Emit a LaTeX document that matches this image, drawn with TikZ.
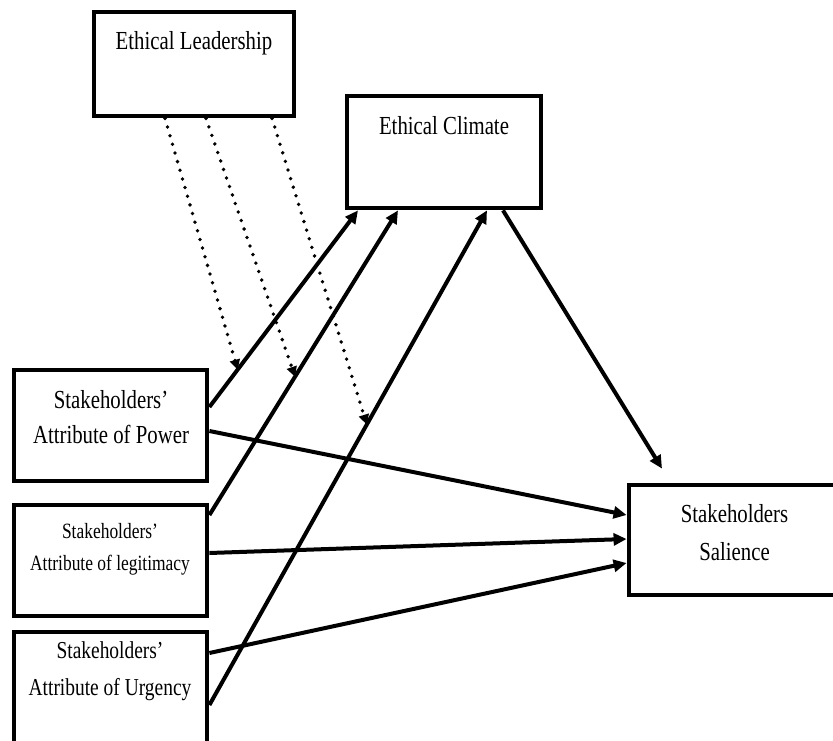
\documentclass[tikz,border=0pt]{standalone}
\usepackage{fontspec}
\setmainfont{Liberation Serif}[FakeStretch=0.8]
\usetikzlibrary{arrows.meta, positioning}

\begin{document}
\begin{tikzpicture}[x=1pt, y=-1pt,
    box/.style={draw, line width=4.8pt, inner sep=0pt},
    lbl/.style={anchor=base, align=center, inner sep=0pt},
    link/.style={line width=4pt, -{Triangle[length=13pt, width=12pt]}},
    moderation/.style={line width=3.8pt, line cap=round, dash pattern=on 0pt off 9pt,
        -{Triangle[length=10pt, width=10pt]}}]
    \useasboundingbox (0,0) rectangle (833,741);
    \clip (0,0) rectangle (833,741);
    % Boxes
    \node[box, minimum width=200, minimum height=104] (lead) at (194,64) {};
    \node[box, minimum width=194, minimum height=112] (clim) at (444,152) {};
    \node[box, minimum width=193, minimum height=111] (pow) at (110.5,425.5) {};
    \node[box, minimum width=193, minimum height=111] (leg) at (110.5,560.5) {};
    \node[box, minimum width=193, minimum height=130] (urg) at (110.5,697) {};
    \node[box, minimum width=214, minimum height=110] (sal) at (736,540) {};
    % Labels
    \node[lbl, font=\fontsize{26}{35}\selectfont] (leadtext) at (194,50) {Ethical Leadership};
    \node[lbl, font=\fontsize{26}{35}\selectfont] (climtext) at (444,135) {Ethical Climate};
    \node[lbl, font=\fontsize{26}{35}\selectfont] (powtext) at (111,443) {Stakeholders'\\Attribute of Power};
    \node[lbl, font=\fontsize{21.8}{32}\selectfont] (legtext) at (110,570) {Stakeholders'\\Attribute of legitimacy};
    \node[lbl, font=\fontsize{24.3}{37}\selectfont] (urgtext) at (110,695) {Stakeholders'\\Attribute of Urgency};
    \node[lbl, font=\fontsize{26}{38}\selectfont] (saltext) at (734.5,560) {Stakeholders\\Salience};
    % Paths to ethical climate
    \draw[link] ([yshift=18.5]pow.east) -- node[pos=0.19, coordinate] (powmid) {} ([xshift=-86]clim.south);
    \draw[link] ([yshift=45.5]leg.east) -- node[pos=0.454, coordinate] (legmid) {} ([xshift=-46]clim.south);
    \draw[link] ([yshift=-8]urg.east) -- node[pos=0.567, coordinate] (urgmid) {} ([xshift=43]clim.south);
    % Paths to salience
    \draw[link] ([yshift=-5.5]pow.east) -- ([yshift=25]sal.west);
    \draw[link] ([yshift=7.5]leg.east) -- ([yshift=1]sal.west);
    \draw[link] ([yshift=44]urg.east) -- ([yshift=-23]sal.west);
    \draw[link] ([xshift=59]clim.south) -- ([xshift=-74, yshift=14]sal.north);
    % Moderation by ethical leadership
    \draw[moderation] ([xshift=-29]lead.south) -- (powmid);
    \draw[moderation] ([xshift=12]lead.south) -- (legmid);
    \draw[moderation] ([xshift=78]lead.south) -- (urgmid);
\end{tikzpicture}
\end{document}
